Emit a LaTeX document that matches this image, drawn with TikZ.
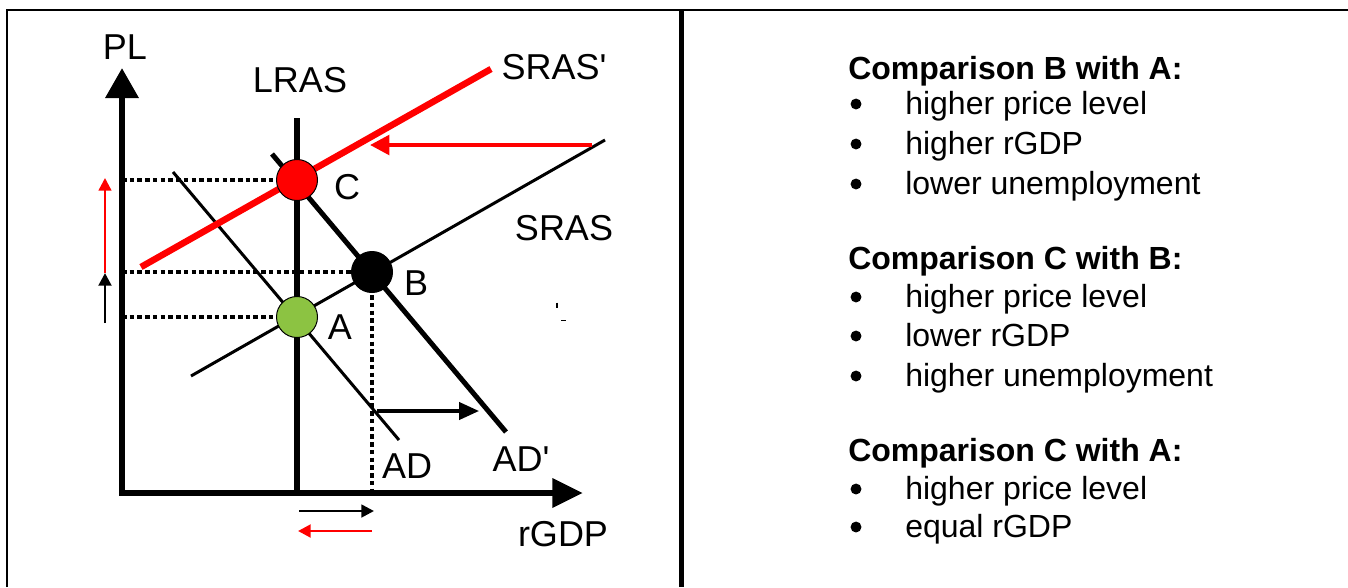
\documentclass[tikz,border=0pt]{standalone}
\usepackage{fontspec}
\setmainfont{Liberation Sans}[Ligatures=TeXOff]
\usetikzlibrary{arrows.meta}
\definecolor{eqgreen}{RGB}{140,195,66}
\begin{document}
\begin{tikzpicture}[x=0.75pt,y=-0.75pt,
  lbl/.style={inner sep=0pt, font=\fontsize{27}{32}\selectfont},
  txt/.style={inner sep=0pt, anchor=base west, font=\fontsize{24}{28}\selectfont},
  head/.style={inner sep=0pt, anchor=base west, font=\fontsize{24}{28}\selectfont\bfseries},
  dots/.style={line width=2.6pt, dash pattern=on 3.4pt off 2.4pt},
  eqpt/.style={circle, draw=black, line width=0.75pt, minimum size=30.75pt, inner sep=0pt},
  bul/.style={circle, fill=black, inner sep=0pt, minimum size=8.2pt},
  boxline/.style={line width=1.5pt},
  small/.style={-{Triangle[length=9.5pt,width=9.5pt]}},
]
\useasboundingbox (0,0) rectangle (1348,587);
\clip (0,0) rectangle (1348,587);

% frame
\draw[boxline] (7,587) -- (7,9.5) -- (1348,9.5);
\draw[line width=3.4pt] (681.5,9.5) -- (681.5,587);

% coordinates
\coordinate (O) at (122,493);
\coordinate (Ytip) at (122,68);
\coordinate (Xtip) at (583,493);
\coordinate (ADs) at (173,172);  \coordinate (ADe) at (399,440);
\coordinate (AD2s) at (272,154); \coordinate (AD2e) at (506,432);
\coordinate (SRs) at (191,376);  \coordinate (SRe) at (605,140);
\coordinate (SR2s) at (141,267); \coordinate (SR2e) at (491,69);
\coordinate (LRt) at (297,118);

% equilibrium points (placed, drawn later)
\path (297,317) coordinate (Ap) (372,272) coordinate (Bp) (297,180) coordinate (Cp);

% dotted guides
\draw[dots] (O |- Cp) -- (Cp);
\draw[dots] (O |- Bp) -- (Bp);
\draw[dots] (O |- Ap) -- (Ap);
\draw[dots] (Bp) -- (Bp |- O);

% curves
\draw[line width=2.25pt] (ADs) -- (ADe);
\draw[line width=3.75pt] (AD2s) -- (AD2e);
\draw[line width=2.25pt] (SRs) -- (SRe);
\draw[line width=4.9pt, red] (SR2s) -- (SR2e);
\draw[line width=4.5pt] (LRt) -- (LRt |- O);

% axes
\draw[line width=4.9pt, line join=miter,
  {Triangle[length=22.5pt,width=24pt]}-{Triangle[length=23pt,width=21pt]}]
  (Ytip) -- (O) -- (Xtip);

% shift arrows
\coordinate (r1) at (592,145); \coordinate (r2) at (370,145);
\draw[red, line width=3.2pt, -{Triangle[length=14.5pt,width=14.5pt]}] (r1) -- (r2);
\coordinate (k1) at (377,411); \coordinate (k2) at (479,411);
\draw[line width=2.4pt, -{Triangle[length=15pt,width=13pt]}] (k1) -- (k2);

% small axis arrows
\coordinate (v0) at (105,323); \coordinate (v1) at (105,273); \coordinate (v2) at (105,178);
\draw[red, line width=1.8pt, small] (v1) -- (v2);
\draw[line width=2.1pt, small] (v0) -- (v1);
\coordinate (h0) at (299,511); \coordinate (h1) at (374,511);
\draw[line width=2pt, small] (h0) -- (h1);
\coordinate (h2) at (372,531); \coordinate (h3) at (298,531);
\draw[red, line width=2.2pt, small] (h2) -- (h3);

% stray marks
\draw[line width=0.8pt] (557,302.5) -- (557,307.5);
\draw[line width=0.8pt] (561,320.5) -- (566,320.5);

% points
\node[eqpt, fill=eqgreen] (A) at (Ap) {};
\node[eqpt, fill=black] (B) at (Bp) {};
\node[eqpt, fill=red] (C) at (Cp) {};

% labels
\node[lbl] (PL) at (125,47) {PL};
\node[lbl] (LRAS) at (300,80) {LRAS};
\node[lbl] (SRAS2) at (554,67) {SRAS'};
\node[lbl] (SRAS) at (564,228) {SRAS};
\node[lbl] (lC) at (347,187) {C};
\node[lbl] (lB) at (416,283) {B};
\node[lbl] (lA) at (340,327) {A};
\node[lbl] (lAD) at (407,466) {AD};
\node[lbl] (lAD2) at (521,459) {AD'};
\node[lbl] (rGDP) at (563,534) {rGDP};

% right text
\node[head] (H1) at (848,79) {Comparison B with A:};
\node[bul] (b11) at (856,104) {}; \node[txt] (t11) at (905,114) {higher price level};
\node[bul] (b12) at (856,144) {}; \node[txt] (t12) at (905,154) {higher rGDP};
\node[bul] (b13) at (856,184) {}; \node[txt] (t13) at (905,194) {lower unemployment};

\node[head] (H2) at (848,269) {Comparison C with B:};
\node[bul] (b21) at (856,297) {}; \node[txt] (t21) at (905,307) {higher price level};
\node[bul] (b22) at (856,336) {}; \node[txt] (t22) at (905,346) {lower rGDP};
\node[bul] (b23) at (856,376) {}; \node[txt] (t23) at (905,386) {higher unemployment};

\node[head] (H3) at (848,461) {Comparison C with A:};
\node[bul] (b31) at (856,489) {}; \node[txt] (t31) at (905,499) {higher price level};
\node[bul] (b32) at (856,527) {}; \node[txt] (t32) at (905,537) {equal rGDP};
\end{tikzpicture}
\end{document}
